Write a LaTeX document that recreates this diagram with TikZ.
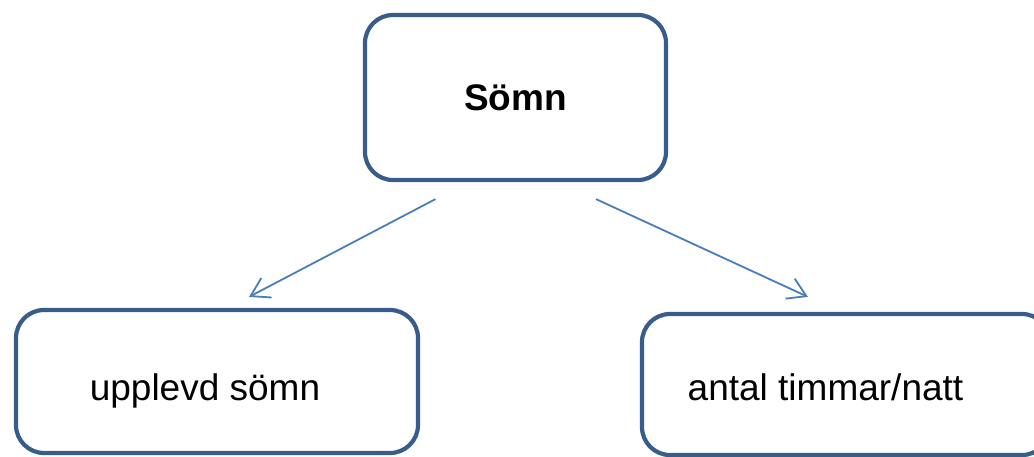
\documentclass[tikz,border=0pt]{standalone}
\usepackage{fontspec}
\setmainfont{Liberation Sans}
\usetikzlibrary{arrows.meta}
\definecolor{ramblue}{RGB}{56,93,138}
\definecolor{pilblue}{RGB}{74,126,187}

\begin{document}
\begin{tikzpicture}[x=1pt, y=-1pt,
    >={Straight Barb[length=18pt,width=22pt]},
    ruta/.style={rectangle, draw=ramblue, line width=4.2pt, rounded corners=28pt, inner sep=0pt},
    pil/.style={->, pilblue, line width=1.8pt},
    stor/.style={font=\fontsize{37}{41}\selectfont}]

    \useasboundingbox (0,0) rectangle (1034,457);
    \clip (0,0) rectangle (1034,457);

    % === översta rutan ===
    \node[ruta, stor, minimum width=301pt, minimum height=165pt] (somn) at (515.5,97.5) {\textbf{Sömn}};

    % === nedre rutorna ===
    \node[ruta, minimum width=402pt, minimum height=143pt] (upplevd) at (217,381.5) {};
    \node[stor, anchor=base] (upplevdtext) at (205,400) {upplevd sömn};

    \node[ruta, minimum width=408pt, minimum height=141pt] (antal) at (846,384.5) {};
    \node[stor, anchor=base] (antaltext) at (825.5,400) {antal timmar/natt};

    % === pilar ===
    \coordinate (vstart) at ([xshift=-80pt,yshift=-17pt]somn.south);
    \coordinate (hstart) at ([xshift=80.5pt,yshift=-17pt]somn.south);
    \coordinate (vslut) at ([xshift=32pt,yshift=11pt]upplevd.north);
    \coordinate (hslut) at ([xshift=-38pt,yshift=15pt]antal.north);

    \draw[pil] (vstart) -- (vslut);
    \draw[pil] (hstart) -- (hslut);

\end{tikzpicture}
\end{document}
